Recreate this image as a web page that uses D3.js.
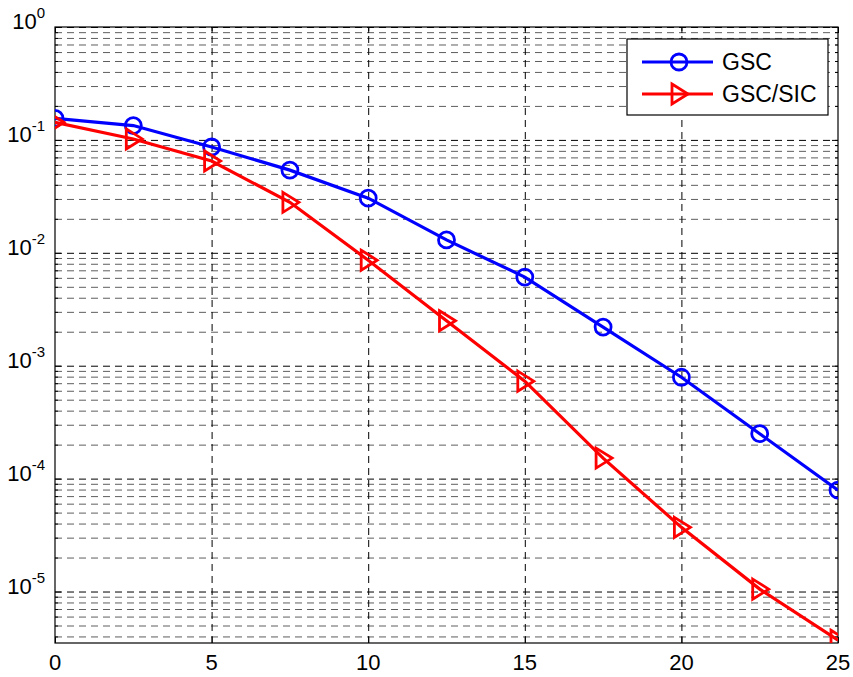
<!DOCTYPE html>
<html>
<head>
<meta charset="utf-8">
<script src="https://cdn.jsdelivr.net/npm/d3@7"></script>
<style>
  html, body { margin: 0; padding: 0; background: #fff; }
  svg { display: block; font-family: "Liberation Sans", Arial, sans-serif; }
</style>
</head>
<body>
<div id="chart"></div>
<script>
// SNR values on the x axis
const snr = [0, 2.5, 5, 7.5, 10, 12.5, 15, 17.5, 20, 22.5, 25];

// error rate for each receiver
const gsc = [0.155, 0.134, 0.0865, 0.054, 0.0305, 0.013, 0.0061, 0.0022, 7.9e-4, 2.5e-4, 7.9e-5];
const gscSic = [0.143, 0.102, 0.065, 0.028, 0.0086, 0.0025, 7.3e-4, 1.52e-4, 3.7e-5, 1.05e-5, 3.7e-6];

const seriesNames = ["GSC", "GSC/SIC"];
const xTicks = [0, 5, 10, 15, 20, 25];
const yDecades = [0, -1, -2, -3, -4, -5];

function drawChart() {
    const width = 853, height = 677;
    const margin = { top: 27, right: 15, bottom: 34, left: 55 };
    const w = width - margin.left - margin.right;
    const h = height - margin.top - margin.bottom;

    const svg = d3.select("#chart").append("svg")
        .attr("width", width)
        .attr("height", height);

    svg.append("rect")
        .attr("width", width)
        .attr("height", height)
        .attr("fill", "#fff");

    const g = svg.append("g")
        .attr("transform", `translate(${margin.left},${margin.top})`);

    // Scales
    const x = d3.scaleLinear().domain([0, 25]).range([0, w]);
    const y = d3.scaleLog().domain([3.5e-6, 1]).range([h, 0]);

    // Horizontal grid: minor lines (2..9 per decade) then decades
    const minorVals = [];
    for (let e = -6; e < 0; e++) {
        for (let m = 2; m <= 9; m++) {
            const v = m * Math.pow(10, e);
            if (v >= 3.5e-6 && v < 1) minorVals.push(v);
        }
    }
    const majorVals = yDecades.map(e => Math.pow(10, e));

    g.append("g")
        .attr("class", "grid-minor")
        .call(d3.axisLeft(y)
            .tickValues(minorVals)
            .tickSize(-w)
            .tickFormat(""))
        .call(s => s.select(".domain").remove())
        .selectAll("line")
        .attr("stroke", "#5e5e5e")
        .attr("stroke-dasharray", "7,5");

    g.append("g")
        .attr("class", "grid-major")
        .call(d3.axisLeft(y)
            .tickValues(majorVals)
            .tickSize(-w)
            .tickFormat(""))
        .call(s => s.select(".domain").remove())
        .selectAll("line")
        .attr("stroke", "#000")
        .attr("stroke-dasharray", "7,5");

    // Vertical grid
    g.append("g")
        .attr("class", "grid-x")
        .attr("transform", `translate(0,${h})`)
        .call(d3.axisBottom(x)
            .tickValues(xTicks.slice(1, -1))
            .tickSize(-h)
            .tickFormat(""))
        .call(s => s.select(".domain").remove())
        .selectAll("line")
        .attr("stroke", "#000")
        .attr("stroke-dasharray", "7,5");

    // Tick marks inside the box (all four sides)
    const tickLen = 6;
    g.append("g")
        .attr("transform", `translate(0,${h})`)
        .call(d3.axisBottom(x).tickValues(xTicks).tickSize(-tickLen).tickFormat(""))
        .call(s => s.select(".domain").remove());
    g.append("g")
        .call(d3.axisTop(x).tickValues(xTicks).tickSize(-tickLen).tickFormat(""))
        .call(s => s.select(".domain").remove());
    g.append("g")
        .call(d3.axisLeft(y).tickValues(majorVals).tickSize(-tickLen).tickFormat(""))
        .call(s => s.select(".domain").remove());
    g.append("g")
        .call(d3.axisLeft(y).tickValues(minorVals).tickSize(-3).tickFormat(""))
        .call(s => s.select(".domain").remove());
    g.append("g")
        .attr("transform", `translate(${w},0)`)
        .call(d3.axisRight(y).tickValues(majorVals).tickSize(-tickLen).tickFormat(""))
        .call(s => s.select(".domain").remove());
    g.append("g")
        .attr("transform", `translate(${w},0)`)
        .call(d3.axisRight(y).tickValues(minorVals).tickSize(-3).tickFormat(""))
        .call(s => s.select(".domain").remove());
    g.selectAll(".tick line").filter(function () {
        return !this.getAttribute("stroke-dasharray");
    }).attr("stroke", "#000");

    // X tick labels
    g.selectAll(".xlabel")
        .data(xTicks)
        .enter()
        .append("text")
        .attr("class", "xlabel")
        .attr("x", d => x(d))
        .attr("y", h + 27)
        .attr("text-anchor", "middle")
        .style("font-size", "22px")
        .style("fill", "#000")
        .text(d => d);

    // Y tick labels as 10^n
    const yl = g.selectAll(".ylabel")
        .data(yDecades)
        .enter()
        .append("text")
        .attr("class", "ylabel")
        .attr("x", -10)
        .attr("y", d => y(Math.pow(10, d)) + 2)
        .attr("text-anchor", "end")
        .style("font-size", "22px")
        .style("fill", "#000");
    yl.append("tspan").text("10");
    yl.append("tspan")
        .attr("dy", -11)
        .style("font-size", "15px")
        .text(d => d);

    // Plot box
    g.append("rect")
        .attr("width", w)
        .attr("height", h)
        .attr("fill", "none")
        .attr("stroke", "#000")
        .attr("stroke-width", 1.2);

    // Clip for series
    svg.append("clipPath")
        .attr("id", "plot-clip")
        .append("rect")
        .attr("width", w)
        .attr("height", h);

    const plot = g.append("g").attr("clip-path", "url(#plot-clip)");

    const line = d3.line()
        .x((d, i) => x(snr[i]))
        .y(d => y(d));

    const colors = ["#0000ff", "#ff0000"];
    const triPath = "M-7,-10 L9,0 L-7,10 Z";

    // GSC
    plot.append("path")
        .datum(gsc)
        .attr("fill", "none")
        .attr("stroke", colors[0])
        .attr("stroke-width", 3.2)
        .attr("d", line);

    plot.selectAll(".gsc-dot")
        .data(gsc)
        .enter()
        .append("circle")
        .attr("class", "gsc-dot")
        .attr("cx", (d, i) => x(snr[i]))
        .attr("cy", d => y(d))
        .attr("r", 8)
        .attr("fill", "none")
        .attr("stroke", colors[0])
        .attr("stroke-width", 2.8);

    // GSC/SIC
    plot.append("path")
        .datum(gscSic)
        .attr("fill", "none")
        .attr("stroke", colors[1])
        .attr("stroke-width", 3.2)
        .attr("d", line);

    plot.selectAll(".sic-dot")
        .data(gscSic)
        .enter()
        .append("path")
        .attr("class", "sic-dot")
        .attr("transform", (d, i) => `translate(${x(snr[i])},${y(d)})`)
        .attr("d", triPath)
        .attr("fill", "none")
        .attr("stroke", colors[1])
        .attr("stroke-width", 2.8);

    // Legend
    const legend = svg.append("g")
        .attr("transform", "translate(627,39)");

    legend.append("rect")
        .attr("width", 201)
        .attr("height", 76)
        .attr("fill", "#fff")
        .attr("stroke", "#000")
        .attr("stroke-width", 1.2);

    seriesNames.forEach((name, i) => {
        const row = legend.append("g")
            .attr("transform", `translate(0,${23 + i * 32})`);

        row.append("line")
            .attr("x1", 15)
            .attr("x2", 86)
            .attr("stroke", colors[i])
            .attr("stroke-width", 3.2);

        if (i === 0) {
            row.append("circle")
                .attr("cx", 52)
                .attr("r", 8)
                .attr("fill", "none")
                .attr("stroke", colors[i])
                .attr("stroke-width", 2.8);
        } else {
            row.append("path")
                .attr("transform", "translate(52,0)")
                .attr("d", triPath)
                .attr("fill", "none")
                .attr("stroke", colors[i])
                .attr("stroke-width", 2.8);
        }

        row.append("text")
            .attr("x", 95)
            .attr("y", 8)
            .style("font-size", "23px")
            .style("fill", "#000")
            .text(name);
    });
}

drawChart();
</script>
</body>
</html>
